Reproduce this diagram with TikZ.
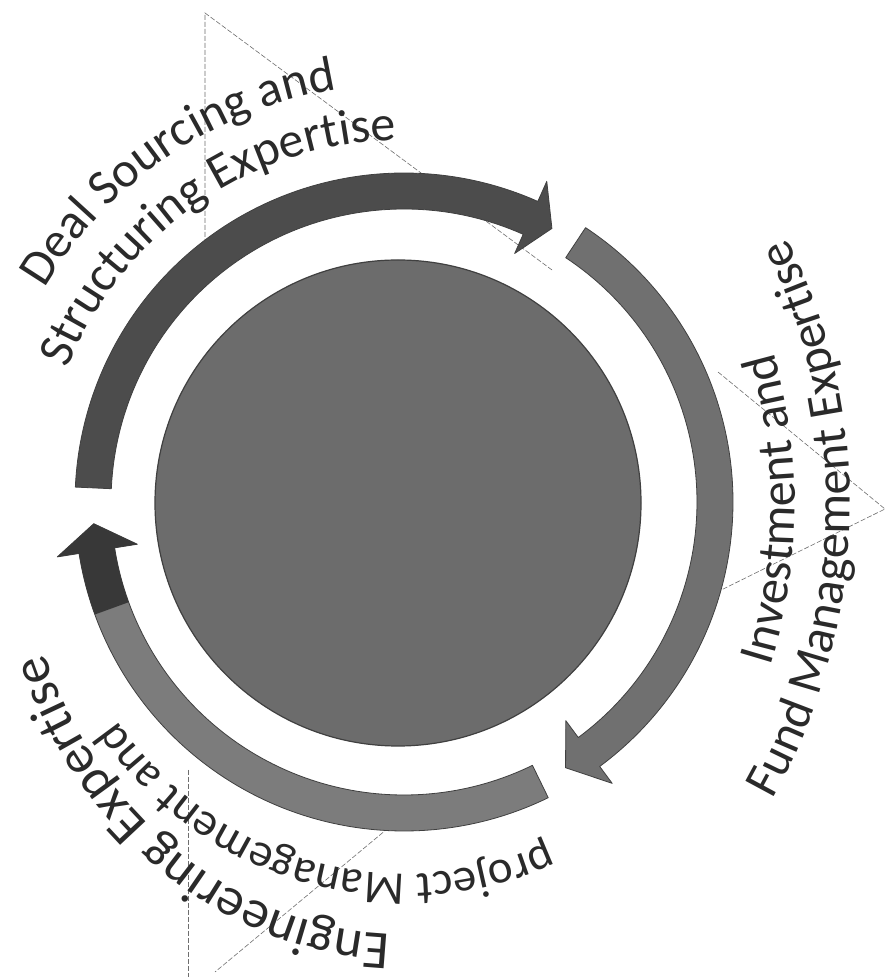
\documentclass[tikz,border=0pt]{standalone}
\usepackage{fontspec}
\setmainfont{Carlito}
\usetikzlibrary{decorations.text}
\definecolor{arrowA}{HTML}{4C4C4C}
\definecolor{arrowB}{HTML}{707070}
\definecolor{arrowC}{HTML}{7C7C7C}
\definecolor{arrowDark}{HTML}{383838}
\definecolor{rimcol}{HTML}{404040}
\definecolor{hubcol}{HTML}{6C6C6C}
\definecolor{txt}{HTML}{2A2A2A}
\definecolor{guidecol}{HTML}{6E6E6E}
\newcommand\labelfont{\fontsize{50}{56}\selectfont\color{txt}}
\newcommand\labelfontsm{\fontsize{47}{52}\selectfont\color{txt}}
\newcommand\labelfontlg{\fontsize{54}{60}\selectfont\color{txt}}
\tikzset{
  ringarrow/.style={draw=rimcol, line width=0.8pt, line join=round},
  guide/.style={draw=guidecol, line width=0.6pt, dash pattern=on 5pt off 2pt},
  curvetext/.style={decorate, decoration={text along path, text align=center, text={|\labelfont|#1}}},
  curvetextsm/.style={decorate, decoration={text along path, text align=center, text={|\labelfontsm|#1}}},
  curvetextlg/.style={decorate, decoration={text along path, text align=center, text={|\labelfontlg|#1}}}
}
\begin{document}
\begin{tikzpicture}[x=1pt,y=1pt]
\useasboundingbox (0,0) rectangle (885,977);
\fill[white] (0,0) rectangle (885,977);

% thin guide lines (scan artefacts)
\coordinate (gA) at (205,964);
\coordinate (gB) at (205,712);
\coordinate (gC) at (552,707);
\draw[guide] (gB) -- (gA) -- (gC);
\coordinate (gD) at (718,605);
\coordinate (gE) at (885,468);
\coordinate (gF) at (705,379);
\draw[guide] (gD) -- (gE) -- (gF);
\coordinate (gG) at (188,207);
\coordinate (gH) at (188,0);
\draw[guide] (gG) -- (gH);
\coordinate (gI) at (410,167);
\coordinate (gJ) at (215,5);
\draw[guide] (gI) -- (gJ);

\begin{scope}[shift={(404,475)}]
  % central disc
  \node[circle, minimum size=486pt, inner sep=0pt, fill=hubcol, draw=rimcol, line width=1.2pt] (hub) at (-6,-1) {};

  % top arrow: Deal Sourcing
  \filldraw[ringarrow, fill=arrowA] (177.4:329pt) arc[start angle=177.4, end angle=66, radius=329pt]
     -- (66:351pt) -- (61.6:311pt) -- (66:272pt) -- (66:293pt)
     arc[start angle=66, end angle=177.4, radius=293pt] -- cycle;

  % right arrow: Investment
  \filldraw[ringarrow, fill=arrowB] (56.5:329pt) arc[start angle=56.5, end angle=-53.5, radius=329pt]
     -- (-53.5:350pt) -- (-58.7:311pt) -- (-53.5:272pt) -- (-53.5:293pt)
     arc[start angle=-53.5, end angle=56.5, radius=293pt] -- cycle;

  % bottom arrow: Engineering
  \filldraw[ringarrow, fill=arrowC] (-64:329pt) arc[start angle=-64, end angle=-171, radius=329pt]
     -- (-171:351pt) -- (-176:311pt) -- (-171:270pt) -- (-171:293pt)
     arc[start angle=-171, end angle=-64, radius=293pt] -- cycle;
  \fill[arrowDark] (-160:329pt) arc[start angle=-160, end angle=-171, radius=329pt]
     -- (-171:351pt) -- (-176:311pt) -- (-171:270pt) -- (-171:293pt)
     arc[start angle=-171, end angle=-160, radius=293pt] -- cycle;

  % labels
  \path[curvetext={Deal Sourcing and}] (164.3:418pt) arc[start angle=164.3, end angle=84.3, radius=418pt];
  \path[curvetext={Structuring Expertise}] (169.8:362pt) arc[start angle=169.8, end angle=79.8, radius=362pt];

  \begin{scope}[shift={(-154,-3)}]
    \path[curvetext={Investment and}] (-32:545pt) arc[start angle=-32, end angle=31, radius=545pt];
    \path[curvetext={Fund Management Expertise}] (-33:600pt) arc[start angle=-33, end angle=30, radius=600pt];
  \end{scope}

  \path[curvetextsm={project Management and}] (-60:355pt and 372pt) arc[start angle=-60, end angle=-150, x radius=355pt, y radius=372pt];
  \path[curvetextlg={Engineering Expertise}] (-78:384pt and 432pt) arc[start angle=-78, end angle=-172, x radius=384pt, y radius=432pt];
\end{scope}
\end{tikzpicture}
\end{document}
